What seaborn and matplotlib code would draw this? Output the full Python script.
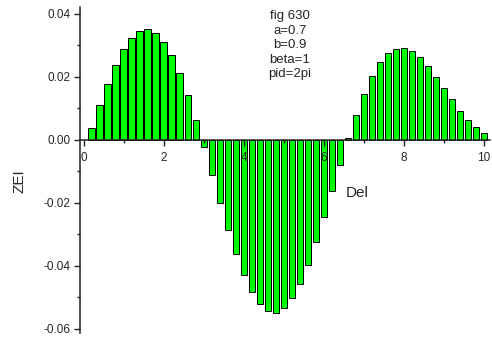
import matplotlib
matplotlib.use("Agg")
import matplotlib.pyplot as plt
import matplotlib.patheffects as pe
from matplotlib.ticker import MultipleLocator
import seaborn as sns
import pandas as pd

sns.set_style("white")
plt.rcParams['font.family'] = ['Liberation Sans', 'DejaVu Sans']

del_vals = [0.2, 0.4, 0.6, 0.8, 1.0, 1.2, 1.4, 1.6, 1.8, 2.0,
            2.2, 2.4, 2.6, 2.8, 3.0, 3.2, 3.4, 3.6, 3.8, 4.0,
            4.2, 4.4, 4.6, 4.8, 5.0, 5.2, 5.4, 5.6, 5.8, 6.0,
            6.2, 6.4, 6.6, 6.8, 7.0, 7.2, 7.4, 7.6, 7.8, 8.0,
            8.2, 8.4, 8.6, 8.8, 9.0, 9.2, 9.4, 9.6, 9.8, 10.0]
zei_vals = [0.0037, 0.0110, 0.0179, 0.0239, 0.0289, 0.0325, 0.0346, 0.0351, 0.0340, 0.0312,
            0.0269, 0.0212, 0.0142, 0.0062, -0.0023, -0.0111, -0.0200, -0.0286, -0.0363, -0.0430,
            -0.0484, -0.0522, -0.0544, -0.0548, -0.0534, -0.0502, -0.0456, -0.0396, -0.0325, -0.0245,
            -0.0163, -0.0079, 0.0005, 0.0079, 0.0146, 0.0203, 0.0246, 0.0276, 0.0290, 0.0292,
            0.0283, 0.0262, 0.0235, 0.0200, 0.0164, 0.0129, 0.0092, 0.0063, 0.0040, 0.0022]
annotation = "fig 630\na=0.7\nb=0.9\nbeta=1\npid=2pi"
x_label = "Del"
y_label = "ZEI"

df = pd.DataFrame({"Del": del_vals, "ZEI": zei_vals})

fig = plt.figure(figsize=(4.92, 3.38), dpi=100)
ax = fig.add_axes([80/492, 1-333/338, 410/492, 326/338])

sns.barplot(data=df, x="Del", y="ZEI", native_scale=True, width=0.8,
            color="#00ff00", saturation=1, edgecolor="black", linewidth=0.7,
            errorbar=None, ax=ax)
for p in ax.patches:
    p.set_zorder(1)
    p.set_path_effects([pe.SimplePatchShadow(offset=(0.8, -0.8), shadow_rgbFace="gray", alpha=0.6),
                        pe.Normal()])

ax.set_xlim(-0.09, 10.15)
ax.set_ylim(-0.0613, 0.0422)

ax.spines['top'].set_visible(False)
ax.spines['right'].set_visible(False)
ax.spines['bottom'].set_position(('data', 0))
for s in ('left', 'bottom'):
    ax.spines[s].set_color('#222222')
    ax.spines[s].set_linewidth(1.1)
    ax.spines[s].set_zorder(5)

ax.xaxis.set_major_locator(MultipleLocator(2))
ax.xaxis.set_minor_locator(MultipleLocator(1))
ax.yaxis.set_major_locator(MultipleLocator(0.02))
ax.yaxis.set_minor_locator(MultipleLocator(0.01))
ax.set_xticks([0, 2, 4, 6, 8, 10])
ax.set_xticklabels(["0", "2", "4", "6", "8", "10"])
ax.set_yticks([-0.06, -0.04, -0.02, 0.0, 0.02, 0.04])
ax.set_yticklabels(["-0.06", "-0.04", "-0.02", "0.00", "0.02", "0.04"])

ax.tick_params(axis='both', which='major', direction='out', length=4.5, width=1,
               color='#222222', labelsize=8.5, pad=2.5, bottom=True, left=True)
ax.tick_params(axis='both', which='minor', direction='out', length=2.5, width=1,
               color='#222222', bottom=True, left=True)
ax.tick_params(axis='x', which='major', pad=4)
ax.xaxis.set_zorder(6)
ax.yaxis.set_zorder(6)

ax.set_xlabel(x_label, fontsize=11)
ax.set_ylabel(y_label, fontsize=11)
ax.xaxis.set_label_coords(0.676, 0.45)
ax.yaxis.set_label_coords(-0.13, 0.466)

ax.text(0.512, 0.99, annotation, transform=ax.transAxes, ha='center', va='top',
        multialignment='center', fontsize=9.5, linespacing=1.28)

fig.savefig("out.png", dpi=100)
